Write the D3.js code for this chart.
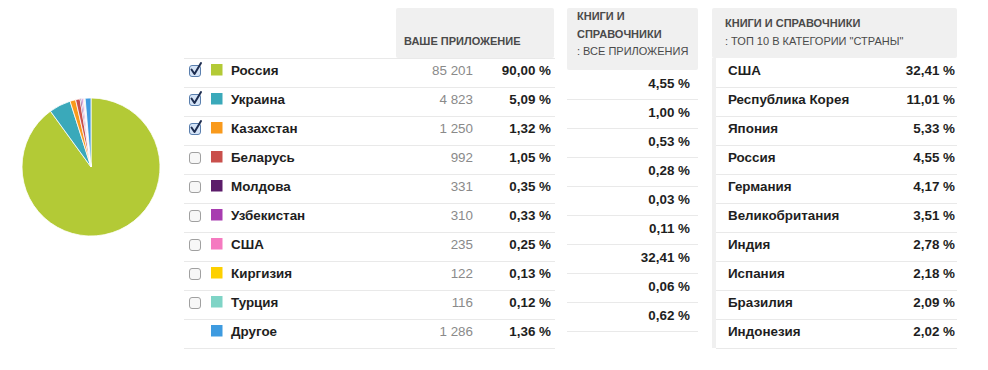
<!DOCTYPE html>
<html><head><meta charset="utf-8">
<script src="https://cdn.jsdelivr.net/npm/d3@7"></script>
<style>
html,body{margin:0;padding:0;background:#fff;}
svg{display:block;font-family:"Liberation Sans",Arial,Helvetica,sans-serif;}
</style></head>
<body><svg id="c" width="988" height="370"></svg>
<script>
// ---- data ----
const countries = ["Россия","Украина","Казахстан","Беларусь","Молдова","Узбекистан","США","Киргизия","Турция","Другое"];
const sessions = [85201,4823,1250,992,331,310,235,122,116,1286];
const shares = [90.00,5.09,1.32,1.05,0.35,0.33,0.25,0.13,0.12,1.36];
const checked = [true,true,true,false,false,false,false,false,false,null];
const colors = ["#b3ca36","#3aa9ba","#f99a1c","#c9504c","#5c1c6a","#a83cb0","#f57ac0","#fdd000","#7fd4c6","#3e9be0"];
const categoryShares = [4.55,1.00,0.53,0.28,0.03,0.11,32.41,0.06,0.62];
const topCountries = ["США","Республика Корея","Япония","Россия","Германия","Великобритания","Индия","Испания","Бразилия","Индонезия"];
const topShares = [32.41,11.01,5.33,4.55,4.17,3.51,2.78,2.18,2.09,2.02];
const headerApp = "ВАШЕ ПРИЛОЖЕНИЕ";
const headerMid = ["КНИГИ И","СПРАВОЧНИКИ",": ВСЕ ПРИЛОЖЕНИЯ"];
const headerRight = ["КНИГИ И СПРАВОЧНИКИ",": ТОП 10 В КАТЕГОРИИ \"СТРАНЫ\""];

const loc = d3.formatLocale({decimal:",",thousands:"\u00a0",grouping:[3],currency:["",""]});
const fInt = loc.format(",d");
const fPct = v => loc.format(".2f")(v) + " %";

const svg = d3.select("#c");
const LINE = "#e9e9e9", HEAD = "#f0f0f0", TXT = "#1e1e1e", HTXT = "#4a4a4a";
const FS = 13.4, HFS = 11;

// ---- pie ----
const pie = d3.pie().sort(null).value(d => d)(sessions);
const arc = d3.arc().innerRadius(0).outerRadius(69);
svg.append("g").attr("transform","translate(91,167)")
  .selectAll("path").data(pie).join("path")
  .attr("d",arc).attr("fill",(d,i)=>colors[i])
  .attr("stroke","#fff").attr("stroke-width",0.8);

// ---- left table ----
const yL = d3.scaleBand().domain(d3.range(countries.length)).range([58,348]);
svg.append("rect").attr("x",396).attr("y",8).attr("width",158).attr("height",50).attr("rx",2).attr("fill",HEAD);
svg.append("text").attr("x",404).attr("y",45).attr("font-size",HFS).attr("font-weight","bold").attr("fill",HTXT).text(headerApp);
const gL = svg.append("g");
gL.append("line").attr("x1",184).attr("x2",555).attr("y1",58.5).attr("y2",58.5).attr("stroke",LINE);
const rows = gL.selectAll("g.r").data(countries).join("g").attr("class","r")
  .attr("transform",(d,i)=>`translate(0,${yL(i)})`);
rows.append("line").attr("x1",184).attr("x2",555).attr("y1",yL.bandwidth()+0.5).attr("y2",yL.bandwidth()+0.5).attr("stroke",LINE);
rows.append("rect").attr("x",211).attr("y",6).attr("width",11.5).attr("height",11.5).attr("fill",(d,i)=>colors[i]);
rows.append("text").attr("x",231).attr("y",17).attr("font-size",FS).attr("font-weight","bold").attr("fill",TXT).text(d=>d);
rows.append("text").attr("x",473).attr("y",17).attr("text-anchor","end").attr("font-size",FS).attr("fill","#8a8a8a").text((d,i)=>fInt(sessions[i]));
rows.append("text").attr("x",551).attr("y",17).attr("text-anchor","end").attr("font-size",FS).attr("font-weight","bold").attr("fill",TXT).text((d,i)=>fPct(shares[i]));
// checkboxes
const cb = rows.filter((d,i)=>checked[i]!==null);
cb.append("rect").attr("x",189.5).attr("y",7.5).attr("width",11).attr("height",11).attr("rx",2.5)
  .attr("fill",(d,i)=>checked[i]?"#d5e4f7":"#f7f7f7").attr("stroke",(d,i)=>checked[i]?"#5a7fae":"#a0a0a0");
cb.filter((d,i)=>checked[i]).append("path").attr("d","M191.5,11.5 L194.5,16 L201,5")
  .attr("fill","none").attr("stroke","#1d2c4f").attr("stroke-width",2).attr("stroke-linecap","round").attr("stroke-linejoin","round");

// ---- middle column ----
const yM = d3.scaleBand().domain(d3.range(categoryShares.length)).range([70,331]);
svg.append("rect").attr("x",567).attr("y",8).attr("width",131).attr("height",62).attr("rx",2).attr("fill",HEAD);
svg.selectAll("text.hm").data(headerMid).join("text").attr("class","hm")
  .attr("x",577).attr("y",(d,i)=>[20,38,54.5][i]).attr("font-size",HFS)
  .attr("font-weight",(d,i)=>i<2?"bold":"normal").attr("fill",HTXT).text(d=>d);
const mr = svg.append("g").selectAll("g").data(categoryShares).join("g").attr("transform",(d,i)=>`translate(0,${yM(i)})`);
mr.append("line").attr("x1",567).attr("x2",698).attr("y1",yM.bandwidth()+0.5).attr("y2",yM.bandwidth()+0.5).attr("stroke",LINE);
mr.append("text").attr("x",690).attr("y",18).attr("text-anchor","end").attr("font-size",FS).attr("font-weight","bold").attr("fill",TXT).text(d=>fPct(d));

// ---- right column ----
const yR = d3.scaleBand().domain(d3.range(topCountries.length)).range([58,348]);
svg.append("rect").attr("x",712).attr("y",8).attr("width",245).attr("height",50).attr("rx",2).attr("fill",HEAD);
svg.append("rect").attr("x",712).attr("y",58).attr("width",4).attr("height",290).attr("fill",HEAD);
svg.selectAll("text.hr").data(headerRight).join("text").attr("class","hr")
  .attr("x",725).attr("y",(d,i)=>[27,45][i]).attr("font-size",HFS)
  .attr("font-weight",(d,i)=>i<1?"bold":"normal").attr("fill",HTXT).text(d=>d);
const rr = svg.append("g").selectAll("g").data(topCountries).join("g").attr("transform",(d,i)=>`translate(0,${yR(i)})`);
rr.append("line").attr("x1",716).attr("x2",957).attr("y1",yR.bandwidth()+0.5).attr("y2",yR.bandwidth()+0.5).attr("stroke",LINE);
rr.append("text").attr("x",728).attr("y",17).attr("font-size",FS).attr("font-weight","bold").attr("fill",TXT).text(d=>d);
rr.append("text").attr("x",955).attr("y",17).attr("text-anchor","end").attr("font-size",FS).attr("font-weight","bold").attr("fill",TXT).text((d,i)=>fPct(topShares[i]));
</script></body></html>
